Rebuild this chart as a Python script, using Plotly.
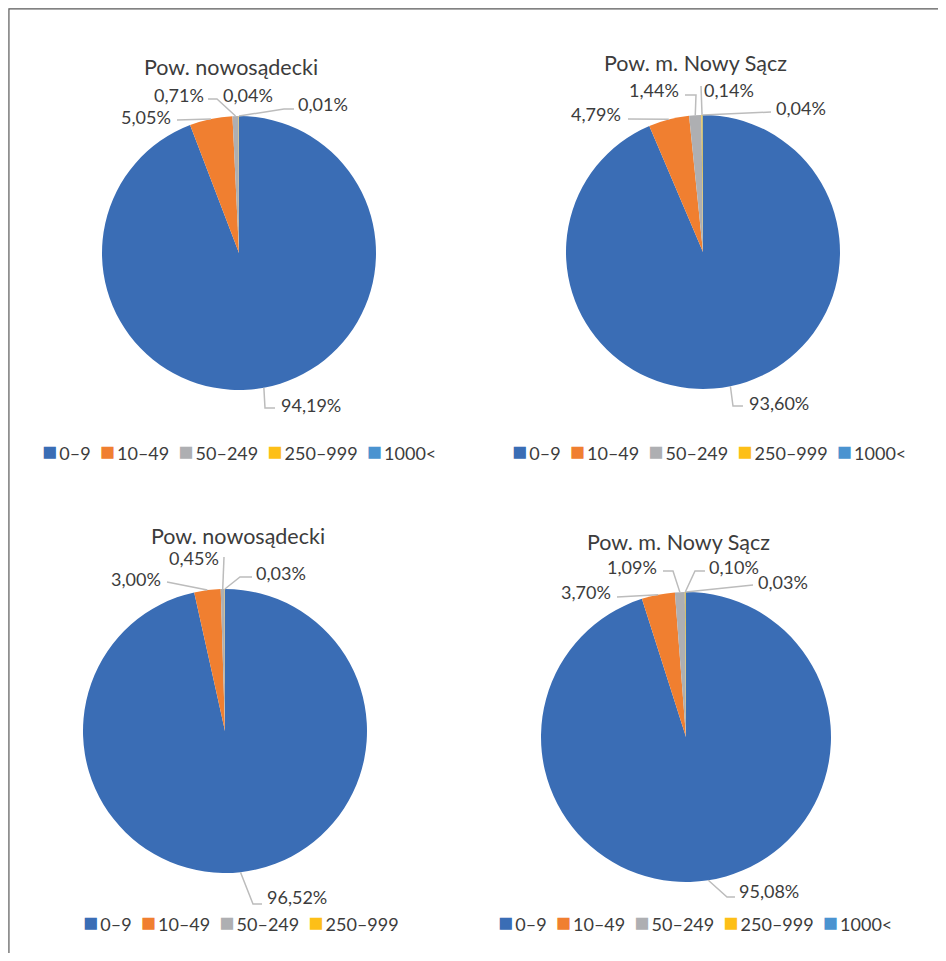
import math
import plotly.graph_objects as go

# ---------------- data ----------------
categories = ["0–9", "10–49", "50–249", "250–999", "1000<"]
titles = ["Pow. nowosądecki", "Pow. m. Nowy Sącz", "Pow. nowosądecki", "Pow. m. Nowy Sącz"]
values_top_left = [94.19, 5.05, 0.71, 0.04, 0.01]
values_top_right = [93.60, 4.79, 1.44, 0.14, 0.04]
values_bottom_left = [96.52, 3.00, 0.45, 0.03]
values_bottom_right = [95.08, 3.70, 1.09, 0.10, 0.03]
all_values = [values_top_left, values_top_right, values_bottom_left, values_bottom_right]

# ---------------- styles / layout ----------------
colors = ["#3A6DB5", "#F07F30", "#AEAFB2", "#FDBF17", "#4A93D0"]
PAGE_OFF = 8               # browser body margin
W, H = 946 - 2 * PAGE_OFF, 961 - 2 * PAGE_OFF
FONT = "Lato"
TXT = "#3C3C3C"
LINE = "#BCBCBC"

# pie centre and radius in window pixels
pies = [
    dict(c=(239, 253), r=137, title=(231, 67), legend=(40, 450)),
    dict(c=(703, 252), r=137, title=(695, 63), legend=(510, 450)),
    dict(c=(225, 731), r=142, title=(238, 536), legend=(81, 921)),
    dict(c=(686, 737), r=145, title=(678, 542), legend=(496, 921)),
]
# label placement: (xanchor, x, y, elbow or None, end or None) ; None end -> no leader line
label_layout = [
    [("left", 279, 405, (265, 408), (275, 408)),
     ("right", 173, 117, None, (177, 120)),
     ("right", 206, 95, (217, 99), (208, 99)),
     ("left", 221, 95, None, None),
     ("left", 296, 104, (284, 109), (294, 109))],
    [("left", 747, 403, (733, 406), (743, 406)),
     ("right", 623, 114, None, (628, 119)),
     ("right", 681, 90, (696, 95), (685, 95)),
     ("left", 702, 90, None, (701, 86)),
     ("left", 774, 108, None, (771, 112))],
    [("left", 265, 897, (253, 904), (262, 904)),
     ("right", 163, 579, None, (167, 582)),
     ("right", 221, 558, None, (224, 557)),
     ("left", 254, 573, (240, 577), (252, 577))],
    [("left", 737, 891, (727, 897), (735, 897)),
     ("right", 613, 592, None, (617, 597)),
     ("right", 659, 567, (673, 571), (663, 571)),
     ("left", 707, 567, (695, 571), (705, 571)),
     ("left", 756, 582, None, (753, 585))],
]


def px(x):
    return (x - PAGE_OFF) / W


def py(y):
    return 1 - (y - PAGE_OFF) / H


fig = go.Figure()
shapes = []
annotations = []

for i, (vals, p) in enumerate(zip(all_values, pies)):
    cx, cy = p["c"]
    r = p["r"]
    labs = categories[:len(vals)]
    fig.add_trace(go.Pie(
        labels=labs, values=vals, sort=False, direction="clockwise", rotation=0,
        marker=dict(colors=colors[:len(vals)], line=dict(width=0)),
        textinfo="none", textposition="none", hoverinfo="label+percent",
        showlegend=False,
        domain=dict(x=[px(cx - r), px(cx + r)], y=[py(cy + r), py(cy - r)]),
    ))
    # title
    tx, ty = p["title"]
    annotations.append(dict(x=px(tx), y=py(ty), xref="paper", yref="paper", text=titles[i],
                            showarrow=False, xanchor="center", yanchor="middle",
                            font=dict(family=FONT, size=21.5, color=TXT)))
    # labels + leader lines
    total = sum(vals)
    cum = 0.0
    for v, lay in zip(vals, label_layout[i]):
        ang = 2 * math.pi * (cum + v / 2) / total
        cum += v
        ex0 = cx + r * math.sin(ang)
        ey0 = cy - r * math.cos(ang)
        xa, lx, ly, elbow, end = lay
        txt = f"{v:.2f}".replace(".", ",") + "%"
        annotations.append(dict(x=px(lx), y=py(ly), xref="paper", yref="paper", text=txt,
                                showarrow=False, xanchor=xa, yanchor="middle",
                                font=dict(family=FONT, size=18, color=TXT)))
        if end is not None:
            pts = [(ex0, ey0)] + ([elbow] if elbow else []) + [end]
            path = "M " + " L ".join(f"{px(a):.5f},{py(b):.5f}" for a, b in pts)
            shapes.append(dict(type="path", path=path, xref="paper", yref="paper",
                               line=dict(color=LINE, width=1.5)))
    # legend (coloured square + category name)
    lx0, ly0 = p["legend"]
    parts = []
    for k, cat in enumerate(labs):
        parts.append(f'<span style="color:{colors[k]};font-size:25px">■</span>\u2009{cat}')
    annotations.append(dict(x=px(lx0), y=py(ly0), xref="paper", yref="paper",
                            text="\u2002".join(parts), showarrow=False,
                            xanchor="left", yanchor="middle",
                            font=dict(family=FONT, size=18, color=TXT)))

# outer frame
shapes.append(dict(type="rect", xref="paper", yref="paper", x0=0.001, y0=-0.1, x1=1.1, y1=0.999,
                   line=dict(color="#595959", width=1.2), fillcolor="rgba(0,0,0,0)"))

fig.update_layout(
    width=W, height=H, margin=dict(l=0, r=0, t=0, b=0),
    paper_bgcolor="white", plot_bgcolor="white",
    shapes=shapes, annotations=annotations, showlegend=False,
    font=dict(family=FONT, color=TXT),
)
fig.write_html("out.html")
